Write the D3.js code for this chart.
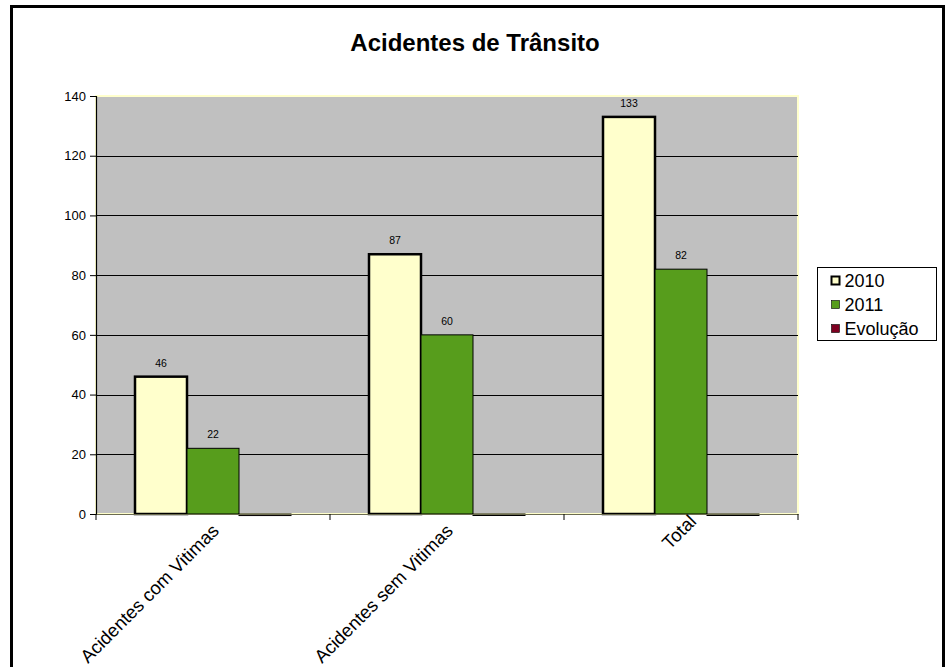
<!DOCTYPE html>
<html>
<head>
<meta charset="utf-8">
<script src="https://cdn.jsdelivr.net/npm/d3@7"></script>
<style>
  body { margin: 0; background: #fff; }
  svg { font-family: Arial, "Liberation Sans", sans-serif; }
</style>
</head>
<body>
<svg id="chart" width="950" height="667"></svg>
<script>
// chart data
var categories = ["Acidentes com Vitimas", "Acidentes sem Vitimas", "Total"];
var seriesNames = ["2010", "2011", "Evolução"];
var values2010 = [46, 87, 133];
var values2011 = [22, 60, 82];
var valuesEvolucao = [-0.52, -0.31, -0.38];
var yTicks = [0, 20, 40, 60, 80, 100, 120, 140];

var colors = { "2010": "#FFFFCC", "2011": "#579D1C", "Evolução": "#7E0021" };
var strokes = { "2010": 2.5, "2011": 1, "Evolução": 1 };

var svg = d3.select("#chart"),
    margin = {top: 96, right: 152, bottom: 153, left: 96},
    width = 950 - margin.left - margin.right,
    height = 667 - margin.top - margin.bottom;

// outer frame
svg.append("rect")
    .attr("x", 11.5).attr("y", 6.5)
    .attr("width", 932).attr("height", 680)
    .attr("fill", "none").attr("stroke", "#000").attr("stroke-width", 3);

svg.append("text")
    .attr("x", 475).attr("y", 51)
    .attr("text-anchor", "middle")
    .style("font-size", "24px").style("font-weight", "bold")
    .text("Acidentes de Trânsito");

var g = svg.append("g").attr("transform", "translate(" + margin.left + "," + margin.top + ")");

var x0 = d3.scaleBand().domain(categories).range([0, width]).paddingInner(0).paddingOuter(0);
var x1 = d3.scaleBand().domain(seriesNames).range([0, x0.bandwidth()]).paddingInner(0).paddingOuter(0.75);
var y = d3.scaleLinear().domain([0, 140]).range([height, 0]);

// plot area background with its light border
g.append("rect")
    .attr("width", width).attr("height", height)
    .attr("fill", "#C0C0C0")
    .attr("stroke", "#FFFFCC").attr("stroke-width", 2);

// gridlines
g.selectAll(".grid")
  .data(yTicks.filter(function(d){ return d > 0 && d < 140; }))
  .enter().append("line")
    .attr("x1", 0).attr("x2", width)
    .attr("y1", function(d){ return Math.round(y(d)) + 0.5; })
    .attr("y2", function(d){ return Math.round(y(d)) + 0.5; })
    .attr("stroke", "#000").attr("stroke-width", 1);

var rows = categories.map(function(c, i){
  return [
    {cat: c, key: "2010", value: values2010[i]},
    {cat: c, key: "2011", value: values2011[i]},
    {cat: c, key: "Evolução", value: valuesEvolucao[i]}
  ];
});

var groups = g.selectAll(".grp")
  .data(rows)
  .enter().append("g")
    .attr("transform", function(d){ return "translate(" + x0(d[0].cat) + ",0)"; });

groups.selectAll("rect")
  .data(function(d){ return d; })
  .enter().append("rect")
    .attr("x", function(d){ return x1(d.key); })
    .attr("width", x1.bandwidth())
    .attr("y", function(d){ return y(Math.max(0, d.value)); })
    .attr("height", function(d){ return Math.max(1.5, Math.abs(y(d.value) - y(0))); })
    .attr("fill", function(d){ return colors[d.key]; })
    .attr("stroke", "#000")
    .attr("stroke-width", function(d){ return strokes[d.key]; });

// data labels (2010, 2011 only)
groups.selectAll("text")
  .data(function(d){ return d.filter(function(e){ return e.key !== "Evolução"; }); })
  .enter().append("text")
    .attr("x", function(d){ return x1(d.key) + x1.bandwidth() / 2; })
    .attr("y", function(d){ return y(d.value) - 10; })
    .attr("text-anchor", "middle")
    .style("font-size", "10.5px")
    .attr("fill", "#000")
    .text(function(d){ return d.value; });

// y axis
var yAxis = g.append("g")
    .call(d3.axisLeft(y).tickValues(yTicks).tickSize(6).tickPadding(4));
yAxis.select(".domain").attr("stroke", "#000").attr("stroke-width", 1.2);
yAxis.selectAll("text").style("font-size", "13px").attr("fill", "#000");

// x axis
var xAxis = g.append("g")
    .attr("transform", "translate(0," + height + ")")
    .call(d3.axisBottom(x0).tickSize(0).tickFormat(""));
xAxis.select(".domain").attr("stroke", "#6b6b4f").attr("stroke-width", 1.2);

xAxis.selectAll(".sep")
  .data([0].concat(categories.map(function(c){ return x0(c) + x0.bandwidth(); })))
  .enter().append("line")
    .attr("x1", function(d){ return d; }).attr("x2", function(d){ return d; })
    .attr("y1", 0).attr("y2", 6)
    .attr("stroke", "#000");

var xLabels = xAxis.selectAll(".lbl")
  .data(categories)
  .enter().append("text")
    .attr("transform", function(d){
      return "translate(" + (x0(d) + x0.bandwidth() / 2 + 7) + ",18) rotate(-45)";
    })
    .attr("text-anchor", "end")
    .style("font-size", "18.5px")
    .attr("fill", "#000")
    .text(function(d){ return d; });

// short labels sit a bit further out along their own direction, like in Excel
var maxLen = d3.max(xLabels.nodes(), function(n){ return n.getComputedTextLength(); });
xLabels.attr("x", function(){ return 0.09 * (maxLen - this.getComputedTextLength()); });

// legend
var legend = svg.append("g").attr("transform", "translate(817.5,267.5)");
legend.append("rect")
    .attr("width", 119).attr("height", 73)
    .attr("fill", "#fff").attr("stroke", "#000").attr("stroke-width", 1);

var items = legend.selectAll(".item")
  .data(seriesNames)
  .enter().append("g")
    .attr("transform", function(d, i){ return "translate(14," + (13 + i * 24) + ")"; });

items.append("rect")
    .attr("x", 0).attr("y", -4)
    .attr("width", 8).attr("height", 8)
    .attr("fill", function(d){ return colors[d]; })
    .attr("stroke", "#000")
    .attr("stroke-width", function(d){ return d === "2010" ? 2 : 0.6; });

items.append("text")
    .attr("x", 13).attr("y", 6.5)
    .style("font-size", "18px")
    .attr("fill", "#000")
    .text(function(d){ return d; });
</script>
</body>
</html>
